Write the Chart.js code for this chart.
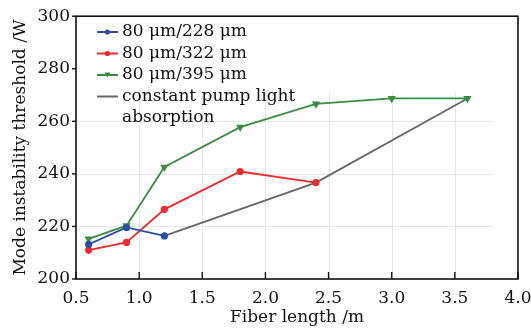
<!DOCTYPE html>
<html>
<head>
<meta charset="utf-8">
<script src="https://cdn.jsdelivr.net/npm/chart.js@4"></script>
<style>
    html, body { margin: 0; padding: 0; background: #fff; }
    #wrap { width: 531px; height: 332px; }
</style>
</head>
<body>
<div id="wrap"><canvas id="graficoModo" width="531" height="332"></canvas></div>
<script>
// datos
const series_names = ['80 μm/228 μm', '80 μm/322 μm', '80 μm/395 μm', ['constant pump light', 'absorption']];
const x_228 = [0.6, 0.9, 1.2];
const y_228 = [213.2, 219.6, 216.4];
const x_322 = [0.6, 0.9, 1.2, 1.8, 2.4];
const y_322 = [211.0, 213.9, 226.5, 240.9, 236.7];
const x_395 = [0.6, 0.9, 1.2, 1.8, 2.4, 3.0, 3.6];
const y_395 = [215.3, 220.3, 242.6, 257.8, 266.6, 268.7, 268.7];
const x_const = [1.2, 2.4, 3.6];
const y_const = [216.4, 236.7, 268.7];
const x_ticks = [0.5, 1.0, 1.5, 2.0, 2.5, 3.0, 3.5, 4.0];
const y_ticks = [200, 220, 240, 260, 280, 300];

const colores = ['#2b4ea6', '#f02a2a', '#3a8d3e', '#666666'];
const FUENTE = 'DejaVu Serif';

function puntos(xs, ys) {
    return xs.map(function (x, i) { return { x: x, y: ys[i] }; });
}

// marco, rejilla y marcas de los ejes
const marcoPlugin = {
    id: 'marco',
    beforeDatasetsDraw: function (chart) {
        const c = chart.ctx;
        const sx = chart.scales.x, sy = chart.scales.y;
        c.save();
        c.strokeStyle = '#e6e6e6';
        c.lineWidth = 1;
        const gTop = sy.getPixelForValue(271);
        const gRight = sx.getPixelForValue(3.8);
        x_ticks.slice(1, -1).forEach(function (v) {
            const px = Math.round(sx.getPixelForValue(v)) + 0.5;
            c.beginPath(); c.moveTo(px, sy.bottom); c.lineTo(px, gTop); c.stroke();
        });
        y_ticks.slice(1, 4).forEach(function (v) {
            const py = Math.round(sy.getPixelForValue(v)) + 0.5;
            c.beginPath(); c.moveTo(sx.left, py); c.lineTo(gRight, py); c.stroke();
        });
        c.restore();
    },
    afterDatasetsDraw: function (chart) {
        const c = chart.ctx;
        const a = chart.chartArea;
        const sx = chart.scales.x, sy = chart.scales.y;
        c.save();
        c.strokeStyle = '#111';
        c.lineWidth = 1.6;
        c.strokeRect(a.left, a.top, a.right - a.left, a.bottom - a.top);
        c.lineWidth = 1.4;
        x_ticks.forEach(function (v) {
            const px = sx.getPixelForValue(v);
            c.beginPath(); c.moveTo(px, a.bottom); c.lineTo(px, a.bottom - 7); c.stroke();
        });
        y_ticks.forEach(function (v) {
            const py = sy.getPixelForValue(v);
            c.beginPath(); c.moveTo(a.left, py); c.lineTo(a.left - 4, py); c.stroke();
        });

        // leyenda
        c.font = '17px "' + FUENTE + '"';
        c.textBaseline = 'middle';
        c.fillStyle = '#111';
        let y = 32;
        chart.data.datasets.forEach(function (ds, i) {
            c.strokeStyle = ds.borderColor;
            c.lineWidth = 2;
            c.beginPath(); c.moveTo(97, y); c.lineTo(118, y); c.stroke();
            if (ds.pointRadius > 0) {
                c.fillStyle = ds.borderColor;
                c.beginPath();
                if (ds.pointStyle === 'triangle') {
                    c.moveTo(104.5, y - 2.5); c.lineTo(110.5, y - 2.5); c.lineTo(107.5, y + 2.5);
                } else {
                    c.arc(107.5, y, 2.6, 0, Math.PI * 2);
                }
                c.fill();
            }
            c.fillStyle = '#111';
            const txt = [].concat(series_names[i]);
            txt.forEach(function (t, k) {
                c.fillText(t, 122, y + k * 21.5);
            });
            y += 21.5 * txt.length;
        });
        c.restore();
    }
};

new Chart(document.getElementById('graficoModo'), {
    type: 'line',
    data: {
        datasets: [
            {
                label: '80 μm/228 μm',
                data: puntos(x_228, y_228),
                borderColor: colores[0],
                backgroundColor: colores[0],
                borderWidth: 1.8,
                pointRadius: 2.7,
                pointStyle: 'circle'
            },
            {
                label: '80 μm/322 μm',
                data: puntos(x_322, y_322),
                borderColor: colores[1],
                backgroundColor: colores[1],
                borderWidth: 1.8,
                pointRadius: 2.7,
                pointStyle: 'circle'
            },
            {
                label: '80 μm/395 μm',
                data: puntos(x_395, y_395),
                borderColor: colores[2],
                backgroundColor: colores[2],
                borderWidth: 1.8,
                pointRadius: 3,
                pointStyle: 'triangle',
                rotation: 180
            },
            {
                label: 'constant pump light absorption',
                data: puntos(x_const, y_const),
                borderColor: colores[3],
                backgroundColor: colores[3],
                borderWidth: 1.8,
                pointRadius: 0
            }
        ]
    },
    options: {
        responsive: false,
        animation: false,
        layout: { padding: { top: 14, right: 13, bottom: 4, left: 10 } },
        plugins: {
            legend: { display: false },
            tooltip: { enabled: false }
        },
        scales: {
            x: {
                type: 'linear',
                min: 0.5,
                max: 4.0,
                afterBuildTicks: function (s) { s.ticks = x_ticks.map(function (v) { return { value: v }; }); },
                afterFit: function (s) { s.height = 49; s.paddingLeft = 0; s.paddingRight = 0; },
                grid: { display: false, drawTicks: false },
                border: { display: false },
                ticks: {
                    padding: 9,
                    color: '#111',
                    font: { family: FUENTE, size: 17 },
                    callback: function (v) { return v.toFixed(1); }
                },
                title: {
                    display: true,
                    text: 'Fiber length /m',
                    color: '#111',
                    font: { family: FUENTE, size: 17 },
                    padding: 0
                }
            },
            y: {
                type: 'linear',
                min: 200,
                max: 300,
                afterBuildTicks: function (s) { s.ticks = y_ticks.map(function (v) { return { value: v }; }); },
                afterFit: function (s) { s.width = 66; },
                grid: { display: false, drawTicks: false },
                border: { display: false },
                ticks: {
                    padding: 6,
                    color: '#111',
                    font: { family: FUENTE, size: 17 }
                },
                title: {
                    display: true,
                    text: 'Mode instability threshold /W',
                    color: '#111',
                    font: { family: FUENTE, size: 17 },
                    padding: { top: 0, bottom: 0 }
                }
            }
        }
    },
    plugins: [marcoPlugin]
});
</script>
</body>
</html>
